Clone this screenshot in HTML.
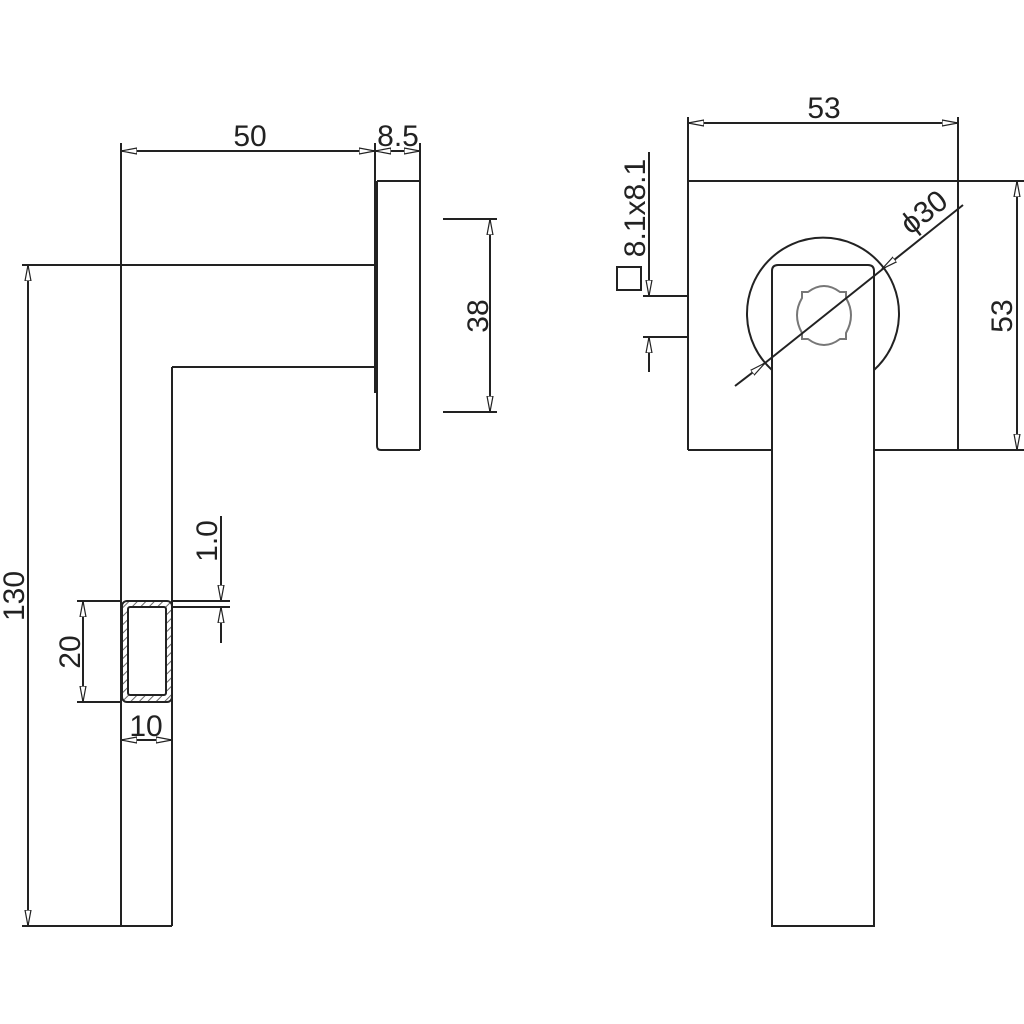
<!DOCTYPE html>
<html><head><style>html,body{margin:0;padding:0;background:#fff}svg{display:block}</style></head>
<body>
<svg width="1024" height="1024" viewBox="0 0 1024 1024" xmlns="http://www.w3.org/2000/svg" font-family="Liberation Sans, DejaVu Sans, sans-serif" fill="none" stroke="#222" stroke-width="2">
<defs>
<marker id="a" viewBox="0 0 16 8" refX="16" refY="4" markerWidth="16" markerHeight="8" markerUnits="userSpaceOnUse" orient="auto-start-reverse"><path d="M0,1 L16,4 L0,7 Z" fill="#fff" stroke="#222" stroke-width="1.2"/></marker>
<pattern id="h" width="6" height="6" patternUnits="userSpaceOnUse" patternTransform="rotate(45)"><line x1="0" y1="0" x2="0" y2="6" stroke="#666" stroke-width="2"/></pattern>
</defs>
<line x1="121" y1="143" x2="121" y2="926"/>
<line x1="22" y1="265" x2="375" y2="265"/>
<line x1="172" y1="367" x2="375" y2="367"/>
<line x1="172" y1="367" x2="172" y2="926"/>
<line x1="22" y1="926" x2="172" y2="926"/>
<line x1="375" y1="143" x2="375" y2="393"/>
<path d="M377,181 H420 M377,181 V446 Q377,450 381,450 H420 M420,143 V450"/>
<line x1="121" y1="151" x2="375" y2="151" marker-start="url(#a)" marker-end="url(#a)"/>
<line x1="375" y1="151" x2="420" y2="151" marker-start="url(#a)" marker-end="url(#a)"/>
<line x1="443" y1="219" x2="497" y2="219"/>
<line x1="443" y1="412" x2="497" y2="412"/>
<line x1="490" y1="219" x2="490" y2="412" marker-start="url(#a)" marker-end="url(#a)"/>
<line x1="28" y1="265" x2="28" y2="926" marker-start="url(#a)" marker-end="url(#a)"/>
<rect x="122" y="601" width="50" height="101" rx="5" fill="url(#h)" stroke="#222"/>
<rect x="128" y="607" width="38" height="88" rx="2" fill="#fff" stroke="#222"/>
<line x1="172" y1="601" x2="230" y2="601"/>
<line x1="172" y1="607" x2="230" y2="607"/>
<line x1="221" y1="516" x2="221" y2="601" marker-end="url(#a)"/>
<line x1="221" y1="607" x2="221" y2="643" marker-start="url(#a)"/>
<line x1="77" y1="601" x2="121" y2="601"/>
<line x1="77" y1="702" x2="121" y2="702"/>
<line x1="83" y1="601" x2="83" y2="702" marker-start="url(#a)" marker-end="url(#a)"/>
<line x1="121" y1="740" x2="172" y2="740" marker-start="url(#a)" marker-end="url(#a)"/>
<g fill="#222" stroke="none" font-size="30">
<text x="250" y="146" text-anchor="middle">50</text>
<text x="398" y="146" text-anchor="middle">8.5</text>
<text transform="translate(488,316) rotate(-90)" text-anchor="middle">38</text>
<text transform="translate(24,596) rotate(-90)" text-anchor="middle">130</text>
<text transform="translate(217,541) rotate(-90)" text-anchor="middle">1.0</text>
<text transform="translate(80,652) rotate(-90)" text-anchor="middle">20</text>
<text x="146" y="736" text-anchor="middle">10</text>
</g>
<line x1="688" y1="117" x2="688" y2="450"/>
<line x1="958" y1="117" x2="958" y2="450"/>
<line x1="688" y1="123" x2="958" y2="123" marker-start="url(#a)" marker-end="url(#a)"/>
<line x1="688" y1="181" x2="1024" y2="181"/>
<line x1="688" y1="450" x2="772" y2="450"/>
<line x1="874" y1="450" x2="1024" y2="450"/>
<line x1="1017" y1="181" x2="1017" y2="450" marker-start="url(#a)" marker-end="url(#a)"/>
<path d="M772,370 A76,76 0 1 1 874,370"/>
<path d="M772,926 V271 Q772,265 778,265 H868 Q874,265 874,271 V926 H772 Z" fill="#fff"/>
<path d="M802,292 L808,292 Q824,280 840,292 L846,292 L846,298 Q856,315 846,333 L846,339 L840,339 Q824,351 808,339 L802,339 L802,333 Q792,315 802,298 Z" stroke="#777" stroke-width="2"/>
<line x1="735" y1="386" x2="765" y2="363" marker-end="url(#a)"/>
<line x1="765" y1="363" x2="963" y2="205"/>
<line x1="890" y1="263" x2="882" y2="269" marker-end="url(#a)"/>
<line x1="643" y1="296" x2="688" y2="296"/>
<line x1="643" y1="337" x2="688" y2="337"/>
<line x1="649" y1="152" x2="649" y2="296" marker-end="url(#a)"/>
<line x1="649" y1="337" x2="649" y2="372" marker-start="url(#a)"/>
<rect x="617" y="267" width="24" height="23" stroke-width="2"/>
<g fill="#222" stroke="none" font-size="30">
<text x="824" y="118" text-anchor="middle">53</text>
<text transform="translate(1012,316) rotate(-90)" text-anchor="middle">53</text>
<text transform="translate(645,208) rotate(-90)" text-anchor="middle">8.1x8.1</text>
<text transform="translate(930,220) rotate(-38)" text-anchor="middle">ϕ30</text>
</g>
</svg>
</body></html>
